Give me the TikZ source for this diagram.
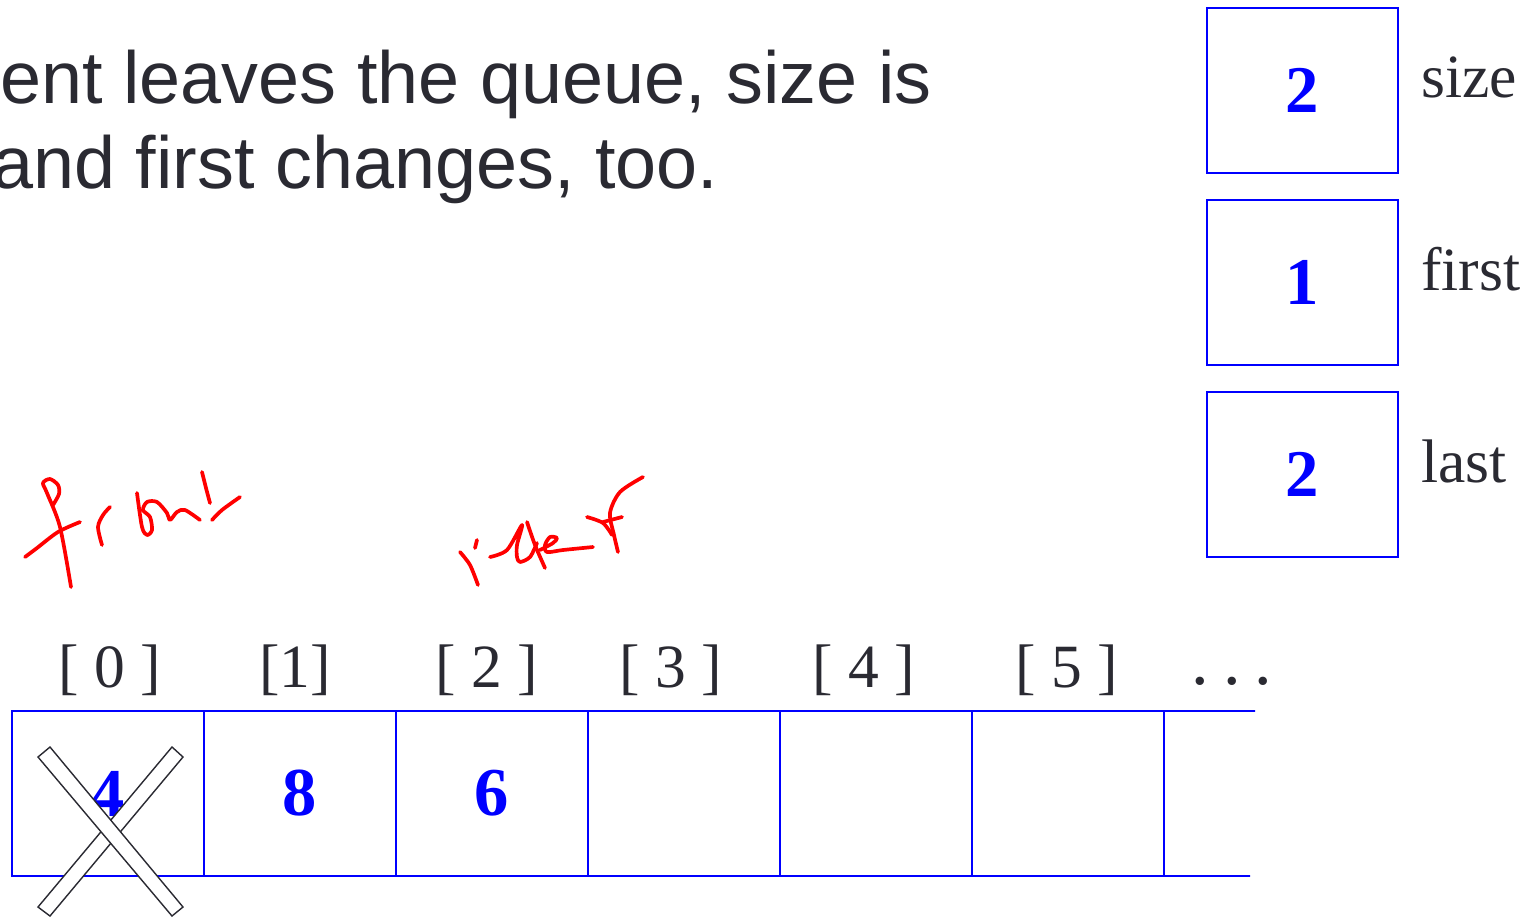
\documentclass[tikz,border=0pt]{standalone}
\usepackage{fontspec}
\setmainfont{Liberation Serif}
\newfontfamily\headfont{Liberation Sans}
\usetikzlibrary{positioning}
\definecolor{inkgray}{RGB}{42,42,50}
\definecolor{qblue}{RGB}{0,0,255}

\begin{document}
\begin{tikzpicture}[
    x=0.02cm, y=-0.02cm,
    cell/.style={
      rectangle, draw=qblue, line width=1.1pt, outer sep=0pt,
      minimum width=3.84cm, minimum height=3.3cm, inner sep=0pt,
      text=qblue, font=\fontsize{39}{39}\selectfont\bfseries
    },
    varbox/.style={
      rectangle, draw=qblue, line width=1.1pt, outer sep=0pt,
      minimum width=3.82cm, minimum height=3.3cm, inner sep=0pt,
      text=qblue, font=\fontsize{38}{38}\selectfont\bfseries
    },
    varname/.style={anchor=base west, inner sep=0pt, text=inkgray,
      font=\fontsize{35}{35}\selectfont},
    idx/.style={anchor=base, inner sep=0pt, text=inkgray,
      font=\fontsize{35}{35}\selectfont},
    head/.style={anchor=base west, inner sep=0pt, text=inkgray,
      font=\headfont\fontsize{42}{42}\selectfont},
    crossbar/.style={draw=inkgray, line width=0.8pt, fill=white, line join=miter},
    scrawl/.style={red, line width=2.1pt, line cap=round, line join=round},
  ]
  \useasboundingbox (0,0) rectangle (1537,917);
  \clip (0,0) rectangle (1537,917);

  %% -- heading --------------------------------------------
  \node[head] (line1) at (0,103)  {ent leaves the queue, size is};
  \node[head] (line2) at (-8,188) {and first changes, too.};

  %% -- size / first / last --------------------------------
  \node[varbox] (size)  at (1302.5,90.5)  {2};
  \node[varbox] (first) at (1302.5,282.5) {1};
  \node[varbox] (last)  at (1302.5,474.5) {2};
  \node[varname] (sizelbl)  at (1421,97)  {size};
  \node[varname] (firstlbl) at (1421,290) {first};
  \node[varname] (lastlbl)  at (1421,482) {last};

  %% -- the array ------------------------------------------
  \node[cell] (cell0) at (108,793.5) {4};
  \node[cell, right=0pt of cell0] (cell1) {8};
  \node[cell, right=0pt of cell1] (cell2) {6};
  \node[cell, right=0pt of cell2] (cell3) {};
  \node[cell, right=0pt of cell3] (cell4) {};
  \node[cell, right=0pt of cell4] (cell5) {};
  \coordinate (topend) at (1255,711);
  \coordinate (botend) at (1250,876);
  \draw[qblue, line width=1.1pt] (cell5.north east) -- (topend);
  \draw[qblue, line width=1.1pt] (cell5.south east) -- (botend);

  %% -- indices --------------------------------------------
  \node[idx] (idx0) at (110,687)  {[ 0 ]};
  \node[idx] (idx1) at (295,687)  {[1]};
  \node[idx] (idx2) at (487,687)  {[ 2 ]};
  \node[idx] (idx3) at (671,687)  {[ 3 ]};
  \node[idx] (idx4) at (864,687)  {[ 4 ]};
  \node[idx] (idx5) at (1067,687) {[ 5 ]};
  \node[idx, font=\fontsize{40}{40}\selectfont] (dots) at (1232,684) {.\hspace{0.2em}.\hspace{0.2em}.};

  %% -- the cross over [0] ---------------------------------
  \draw[crossbar] (172,747) -- (183,757) -- (50,916) -- (38,907) -- cycle;
  \draw[crossbar] (38,757) -- (50,747) -- (183,907) -- (172,916) -- cycle;

  %% -- handwriting: front ---------------------------------
  \draw[scrawl] plot[smooth] coordinates {(71,587) (60,527) (47,493) (43,483) (50,479) (58,485) (59,494) (53,505)};
  \draw[scrawl] plot[smooth] coordinates {(25,557) (37,548) (58,532) (80,522)};
  \draw[scrawl] plot[smooth] coordinates {(102,545) (98,527) (103,515) (110,507)};
  \draw[scrawl] plot[smooth] coordinates {(137,493) (142,527) (147,535) (152,530) (150,517) (143,510) (147,502) (157,502) (167,513) (170,520) (177,512) (185,510) (200,520)};
  \draw[scrawl] plot[smooth] coordinates {(202,472) (206,488) (210,503)};
  \draw[scrawl] plot[smooth] coordinates {(212,520) (222,510) (240,497)};

  %% -- handwriting: rear ----------------------------------
  \draw[scrawl] plot[smooth] coordinates {(460,552) (470,565) (478,585)};
  \draw[scrawl] plot[smooth] coordinates {(477,540) (475,548)};
  \draw[scrawl] plot[smooth] coordinates {(490,557) (507,550) (522,525) (517,545) (517,557) (520,562) (530,557) (537,543)};
  \draw[scrawl] plot[smooth] coordinates {(527,522) (535,545) (545,568)};
  \draw[scrawl] plot[smooth] coordinates {(540,550) (553,543) (557,538) (550,537) (545,545) (547,552) (563,550) (593,547)};
  \draw[scrawl] plot[smooth] coordinates {(643,477) (620,492) (610,513) (614,535) (618,552)};
  \draw[scrawl] plot[smooth] coordinates {(587,517) (603,523) (612,535)};
  \draw[scrawl] plot[smooth] coordinates {(603,522) (622,517)};
\end{tikzpicture}
\end{document}
